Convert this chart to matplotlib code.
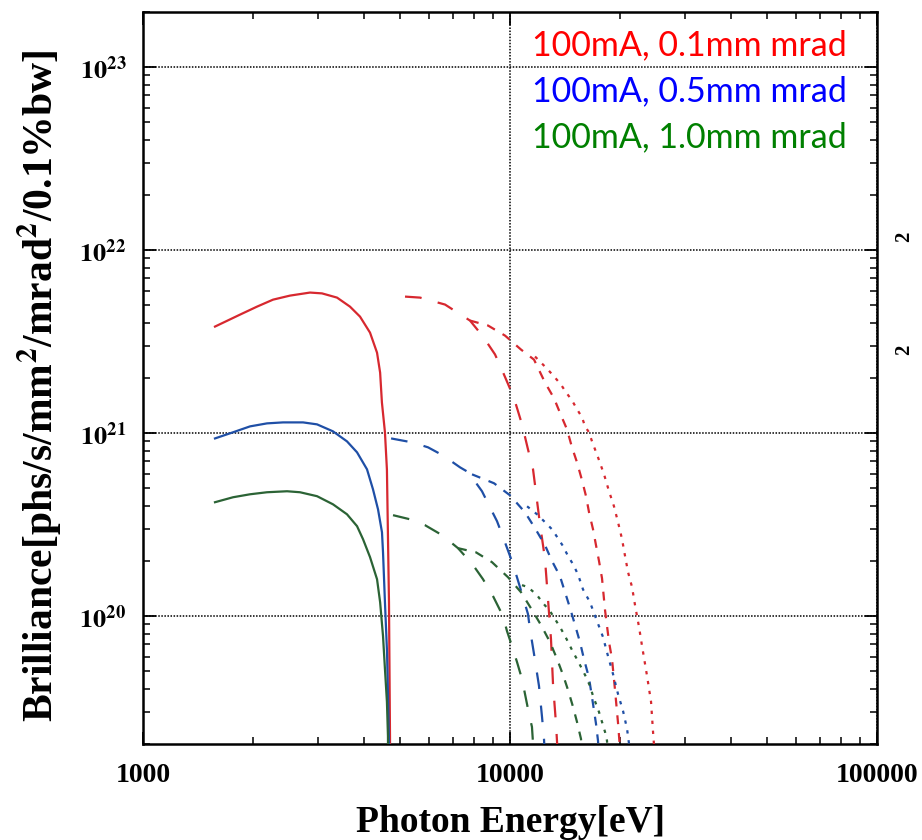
import numpy as np
import matplotlib
matplotlib.use("Agg")
import matplotlib.pyplot as plt
from matplotlib.ticker import FuncFormatter, NullFormatter, LogLocator

plt.rcParams['font.family'] = ['Liberation Serif', 'DejaVu Serif']
plt.rcParams['mathtext.fontset'] = 'stix'

# 100mA, 0.1mm mrad  (harmonic 1, 3, 5, 7)
e_red_1 = [1571, 1838, 2045, 2261, 2515, 2851, 3074, 3378, 3664, 3902, 4155, 4342, 4427, 4477, 4563, 4620, 4650, 4680, 4710, 4740]
b_red_1 = [3.82e21, 4.44e21, 4.91e21, 5.36e21, 5.64e21, 5.86e21, 5.80e21, 5.50e21, 4.91e21, 4.33e21, 3.54e21, 2.75e21, 2.14e21, 1.47e21, 1.01e21, 6.3e20, 2.73e20, 1.19e20, 2.2e19, 1e18]
e_red_3 = [5175, 5686, 6651, 7780, 8442, 9103, 9570, 10000, 10318, 10782, 11194, 11554, 12069, 12455, 12690, 12932, 13097, 13345, 13515]
b_red_3 = [5.57e21, 5.50e21, 5.04e21, 4.12e21, 3.37e21, 2.69e21, 2.15e21, 1.75e21, 1.49e21, 1.116e21, 8.15e20, 6.34e20, 3.18e20, 2.05e20, 1.24e20, 7.49e19, 4.26e19, 2.58e19, 1.66e19]
e_red_5 = [7780, 8712, 9692, 10715, 11627, 12455, 13180, 13772, 14299, 14753, 15225, 15712, 16111, 16418, 16835, 17152, 17478, 17811, 18150, 18612, 18964, 19325, 19693, 19941]
b_red_5 = [4.12e21, 3.87e21, 3.41e21, 2.86e21, 2.52e21, 1.89e21, 1.55e21, 1.25e21, 1.048e21, 8.36e20, 6.92e20, 5.52e20, 4.52e20, 3.69e20, 2.98e20, 2.44e20, 2.0e20, 1.61e20, 1.08e20, 7.21e19, 5.83e19, 3.95e19, 2.61e19, 1.88e19]
e_red_7 = [11700, 12612, 13180, 13772, 14210, 14753, 15225, 15712, 16010, 16418, 16728, 17371, 18040, 18612, 19200, 19693, 20198, 20581, 20970, 21503, 21910, 22469, 22896, 23626, 24227, 24531, 24840]
b_red_7 = [2.62e21, 2.25e21, 2.04e21, 1.84e21, 1.67e21, 1.51e21, 1.35e21, 1.22e21, 1.088e21, 1.009e21, 9.01e20, 7.37e20, 5.95e20, 4.81e20, 3.98e20, 3.26e20, 2.63e20, 2.13e20, 1.74e20, 1.44e20, 1.148e20, 8.71e19, 6.86e19, 4.71e19, 3.4e19, 2.33e19, 1.66e19]

# 100mA, 0.5mm mrad
e_blue_1 = [1571, 1759, 1957, 2177, 2407, 2729, 2980, 3294, 3596, 3830, 4077, 4233, 4369, 4479, 4508, 4563, 4623, 4681, 4720]
b_blue_1 = [9.35e20, 1.01e21, 1.088e21, 1.13e21, 1.144e21, 1.144e21, 1.116e21, 1.022e21, 9.01e20, 7.85e20, 6.34e20, 4.93e20, 3.83e20, 2.87e20, 2.23e20, 1.19e20, 6.36e19, 2.05e19, 1e18]
e_blue_3 = [4742, 5408, 5978, 6567, 7307, 7880, 8130, 8388, 8820, 9217, 9510, 10000, 10190, 10646, 11194, 11334, 11627, 11995, 12225, 12377, 12455]
b_blue_3 = [9.35e20, 8.9e20, 8.36e20, 7.55e20, 6.5e20, 5.95e20, 5.25e20, 4.81e20, 3.93e20, 3.3e20, 2.8e20, 2.13e20, 1.92e20, 1.44e20, 1.026e20, 8.49e19, 6.2e19, 4.15e19, 2.81e19, 2.13e19, 1.66e19]
e_blue_5 = [7880, 9045, 10000, 10987, 11700, 12455, 13013, 13684, 14123, 14574, 15040, 15511, 15904, 16418, 16835, 17152, 17371, 17478]
b_blue_5 = [5.95e20, 5.32e20, 4.57e20, 3.69e20, 3.02e20, 2.44e20, 2.0e20, 1.65e20, 1.35e20, 1.106e20, 8.93e19, 7.21e19, 5.83e19, 4.59e19, 3.31e19, 2.58e19, 2.08e19, 1.66e19]
e_blue_7 = [11131, 11847, 12455, 13013, 13515, 13948, 14388, 14850, 15319, 15806, 16519, 17262, 17923, 18492, 19082, 19693, 20324, 20840, 21104, 21230]
b_blue_7 = [3.98e20, 3.6e20, 3.26e20, 2.98e20, 2.66e20, 2.41e20, 2.13e20, 1.92e20, 1.69e20, 1.4e20, 1.19e20, 9.39e19, 7.68e19, 6.05e19, 4.83e19, 3.75e19, 3.03e19, 2.42e19, 2.0e19, 1.66e19]

# 100mA, 1.0mm mrad
e_green_1 = [1571, 1759, 1957, 2177, 2469, 2678, 2980, 3294, 3596, 3830, 3977, 4155, 4342, 4427, 4508, 4563, 4620, 4650, 4690]
b_green_1 = [4.19e20, 4.46e20, 4.63e20, 4.75e20, 4.81e20, 4.75e20, 4.52e20, 4.08e20, 3.6e20, 3.1e20, 2.63e20, 2.1e20, 1.59e20, 1.19e20, 7.78e19, 5.14e19, 3.4e19, 2.21e19, 1e18]
e_green_3 = [4800, 5340, 5865, 6528, 7217, 7541, 7931, 8442, 8988, 9570, 9813, 10125, 10449, 10782, 10987, 11265, 11477, 11627]
b_green_3 = [3.56e20, 3.38e20, 3.14e20, 2.77e20, 2.35e20, 2.13e20, 1.9e20, 1.59e20, 1.286e20, 1.0e20, 8.28e19, 6.86e19, 5.61e19, 4.53e19, 3.75e19, 2.92e19, 2.48e19, 1.66e19]
e_green_5 = [7217, 8080, 8933, 9877, 10715, 11482, 12148, 12853, 13431, 13948, 14388, 14850, 15225, 15614, 15712]
b_green_5 = [2.35e20, 2.23e20, 1.97e20, 1.63e20, 1.35e20, 1.08e20, 8.93e19, 7.21e19, 5.83e19, 4.77e19, 3.95e19, 3.19e19, 2.64e19, 2.13e19, 1.66e19]
e_green_7 = [10782, 11194, 11847, 12298, 12853, 13265, 13684, 14123, 14482, 14850, 15319, 15712, 16111, 16519, 16835, 17152, 17478, 17811, 18150, 18380, 18492]
b_green_7 = [1.476e20, 1.44e20, 1.302e20, 1.177e20, 1.065e20, 9.63e19, 8.71e19, 7.78e19, 7.04e19, 6.36e19, 5.68e19, 5.14e19, 4.65e19, 4.15e19, 3.66e19, 3.31e19, 2.99e19, 2.64e19, 2.33e19, 2.08e19, 1.66e19]

labels = ["100mA, 0.1mm mrad", "100mA, 0.5mm mrad", "100mA, 1.0mm mrad"]
line_colors = ["#d7282f", "#1f4fa6", "#2b6335"]
text_colors = ["#ff0000", "#0000ff", "#008000"]

series = [
    [(e_red_1, b_red_1), (e_red_3, b_red_3), (e_red_5, b_red_5), (e_red_7, b_red_7)],
    [(e_blue_1, b_blue_1), (e_blue_3, b_blue_3), (e_blue_5, b_blue_5), (e_blue_7, b_blue_7)],
    [(e_green_1, b_green_1), (e_green_3, b_green_3), (e_green_5, b_green_5), (e_green_7, b_green_7)],
]
# solid / long dash / short dash / dotted for harmonics 1, 3, 5, 7
styles = ['-', (0, (7.5, 7.5)), (0, (4, 4)), (0, (1.5, 3))]

fig = plt.figure(figsize=(9.22, 8.4), dpi=100)
ax = fig.add_axes([0.1551, 0.1143, 0.7961, 0.8714])

for k in range(3):
    for h in range(4):
        e, b = series[k][h]
        ax.plot(e, b, color=line_colors[k], linestyle=styles[h], lw=1.6, zorder=3)

ax.set_xscale('log')
ax.set_yscale('log')
ax.set_xlim(1000, 100000)
ax.set_ylim(2e19, 2e23)

ax.grid(which='major', color='black', linestyle=(0, (1, 1)), lw=1.1)
ax.set_axisbelow(True)

ax.xaxis.set_major_formatter(FuncFormatter(lambda v, p: "%d" % round(v)))
ax.yaxis.set_major_formatter(FuncFormatter(lambda v, p: r'$\mathbf{10^{%d}}$' % round(np.log10(v))))
ax.yaxis.set_minor_locator(LogLocator(base=10, subs=np.arange(2, 10), numticks=20))
ax.xaxis.set_minor_formatter(NullFormatter())
ax.yaxis.set_minor_formatter(NullFormatter())

ax.tick_params(which='both', direction='in', top=True, right=True)
ax.tick_params(which='major', length=9, width=1.3)
ax.tick_params(which='minor', length=5, width=1.1)
ax.tick_params(axis='x', which='major', labelsize=20, pad=14)
ax.tick_params(axis='y', which='major', labelsize=19, pad=12)
for lab in ax.get_xticklabels():
    lab.set_fontweight('bold')
for sp in ax.spines.values():
    sp.set_linewidth(1.8)

ax.set_xlabel("Photon Energy[eV]", fontsize=27, fontweight='bold', labelpad=12)
ax.set_ylabel(r"Brilliance[phs/s/mm$^\mathbf{2}$/mrad$^\mathbf{2}$/0.1%bw]",
              fontsize=30, fontweight='bold')
ax.yaxis.set_label_coords(-0.108, 0.49)

# legend texts
for k in range(3):
    ax.text(0.530, 0.955 - k * 0.0628, labels[k], color=text_colors[k],
            fontsize=24.5, family=['Lato', 'DejaVu Sans'], ha='left', va='center',
            transform=ax.transAxes)

# pieces of the neighbouring chart's label at the right edge
fig.text(0.981, 0.718, "2", rotation=90, fontsize=15, fontweight='bold', ha='center', va='center')
fig.text(0.981, 0.583, "2", rotation=90, fontsize=15, fontweight='bold', ha='center', va='center')

fig.savefig("out.png", dpi=100)
